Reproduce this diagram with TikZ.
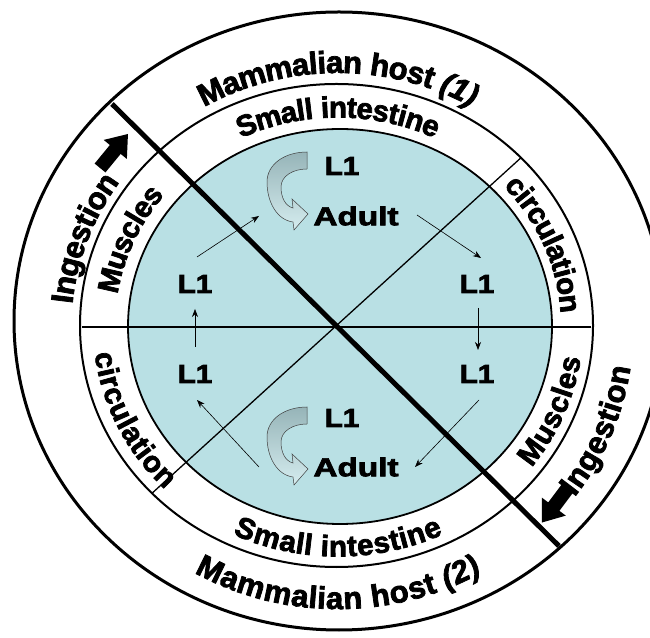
\documentclass[tikz,border=0pt]{standalone}
\usepackage{fontspec}
\setmainfont{Liberation Sans}
\newfontfamily\hvb{Liberation Sans Bold}[FakeBold=2.5]
\newfontfamily\hvbi{Liberation Sans Bold Italic}[FakeBold=2.5]
\usetikzlibrary{decorations.text,arrows.meta,calc}
\definecolor{innerblue}{RGB}{185,224,228}
\definecolor{arrowgrey}{RGB}{150,180,184}
\newcommand\ringfont{\hvb\fontsize{31}{31}\selectfont}
\newcommand\ringifont{\hvbi\fontsize{31}{31}\selectfont}
\newcommand\midfont{\hvb\fontsize{29.5}{29.5}\selectfont}
\tikzset{
  lbl/.style={font=\hvb\fontsize{26}{26}\selectfont, inner sep=0pt},
  flow/.style={-{Stealth[length=8pt,width=6pt]}, line width=0.6pt},
  ringtext/.style={decorate, decoration={text along path, text align=center, raise=-11pt, text={#1}}},
  bendarrow/.pic={
    \path[draw=black!75, line width=0.5pt, top color=arrowgrey, middle color=arrowgrey!70!innerblue, bottom color=innerblue!60!white]
      (0,0) .. controls (-22,0) and (-40,-12) .. (-40,-30)
      .. controls (-40,-50) and (-30,-68) .. (-14,-70)
      -- (-13,-78) -- (1,-62) -- (-15,-47) -- (-14,-56)
      .. controls (-22,-54) and (-26,-45) .. (-26,-35)
      .. controls (-26,-24) and (-14,-17) .. (0,-17) -- cycle;
  },
  blockarrow/.pic={
    \fill[black] (-22,-7) -- (2,-7) -- (2,-15) -- (22,0) -- (2,15) -- (2,7) -- (-22,7) -- cycle;
  }
}
\begin{document}
\begin{tikzpicture}[x=1pt,y=1pt]
\useasboundingbox (0,0) rectangle (650,637);
\fill[white] (0,0) rectangle (650,637);
% rings
\draw[line width=3pt] (339,316) ellipse [x radius=325, y radius=309];
\draw[line width=2pt] (336.5,311.5) ellipse [x radius=256.5, y radius=241.5];
\draw[line width=1.8pt, fill=innerblue] (340,310.5) ellipse [x radius=212, y radius=197.5];
% dividing lines
\coordinate (hL) at (82,310);
\coordinate (hR) at (591,310);
\coordinate (dLL) at ([shift={(336.5,311.5)}]224:256.5 and 241.5);
\coordinate (dUR) at ([shift={(336.5,311.5)}]44:256.5 and 241.5);
\coordinate (tUL) at (112,533);
\coordinate (tLR) at (559,91);
\draw[line width=1.3pt] (hL) -- (hR);
\draw[line width=1.3pt] (dLL) -- (dUR);
\draw[line width=5pt] (tUL) -- (tLR);
% curved block arrows
\pic at (307,485) {bendarrow};
\pic at (307,230) {bendarrow};
% ingestion arrows
\pic[rotate=50.6] at (114,486) {blockarrow};
\pic[rotate=233] at (555,132) {blockarrow};
% inner labels
\node[lbl] (L1t) at (342,471) {\scalebox{1.14}[1]{L1}};
\node[lbl] (Adt) at (356,421) {\scalebox{1.28}[1]{Adult}};
\node[lbl] (L1l) at (195,353) {\scalebox{1.14}[1]{L1}};
\node[lbl] (L1r) at (477,353) {\scalebox{1.14}[1]{L1}};
\node[lbl] (L1ll) at (195,263) {\scalebox{1.14}[1]{L1}};
\node[lbl] (L1lr) at (477,263) {\scalebox{1.14}[1]{L1}};
\node[lbl] (L1b) at (342,219) {\scalebox{1.14}[1]{L1}};
\node[lbl] (Adb) at (356,170) {\scalebox{1.28}[1]{Adult}};
% flow arrows
\coordinate (a1s) at (197,380); \coordinate (a1e) at (259,421);
\coordinate (a2s) at (417,422); \coordinate (a2e) at (481,379);
\coordinate (a3s) at (478,329); \coordinate (a3e) at (478,287);
\coordinate (a4s) at (479,237); \coordinate (a4e) at (415,170);
\coordinate (a5s) at (259,170); \coordinate (a5e) at (197,237);
\coordinate (a6s) at (195,290); \coordinate (a6e) at (195,328);
\draw[flow] (a1s) -- (a1e);
\draw[flow] (a2s) -- (a2e);
\draw[flow] (a3s) -- (a3e);
\draw[flow] (a4s) -- (a4e);
\draw[flow] (a5s) -- (a5e);
\draw[flow] (a6s) -- (a6e);
% outer ring texts
\path[ringtext={|\ringfont|Mammalian host |\ringifont|(1)}]
  ([shift={(338,307)}]170:280 and 268) arc[start angle=170, end angle=10, x radius=280, y radius=268];
\path[ringtext={|\ringfont|Mammalian host |\ringifont|(2)}]
  ([shift={(338,307)}]190:280 and 268) arc[start angle=190, end angle=350, x radius=280, y radius=268];
\path[ringtext={|\ringfont|Ingestion}]
  ([shift={(338,307)}]220:278 and 268) arc[start angle=220, end angle=100, x radius=278, y radius=268];
\path[ringtext={|\ringfont|Ingestion}]
  ([shift={(340,307)}]-81.5:282 and 268) arc[start angle=-81.5, end angle=38.5, x radius=282, y radius=268];
% middle ring texts
\path[ringtext={|\midfont|Small intestine}]
  ([shift={(338,311)}]170:234 and 219.5) arc[start angle=170, end angle=10, x radius=234, y radius=219.5];
\path[ringtext={|\midfont|Small intestine}]
  ([shift={(338,311)}]190:234 and 219.5) arc[start angle=190, end angle=350, x radius=234, y radius=219.5];
\path[ringtext={|\midfont|Muscles}]
  ([shift={(338,311)}]217:234 and 219.5) arc[start angle=217, end angle=97, x radius=234, y radius=219.5];
\path[ringtext={|\midfont|Muscles}]
  ([shift={(338,311)}]-82:234 and 219.5) arc[start angle=-82, end angle=38, x radius=234, y radius=219.5];
\path[ringtext={|\midfont|circulation}]
  ([shift={(338,311)}]82:234 and 219.5) arc[start angle=82, end angle=-38, x radius=234, y radius=219.5];
\path[ringtext={|\midfont|circulation}]
  ([shift={(338,311)}]145:234 and 219.5) arc[start angle=145, end angle=265, x radius=234, y radius=219.5];
\end{tikzpicture}
\end{document}
